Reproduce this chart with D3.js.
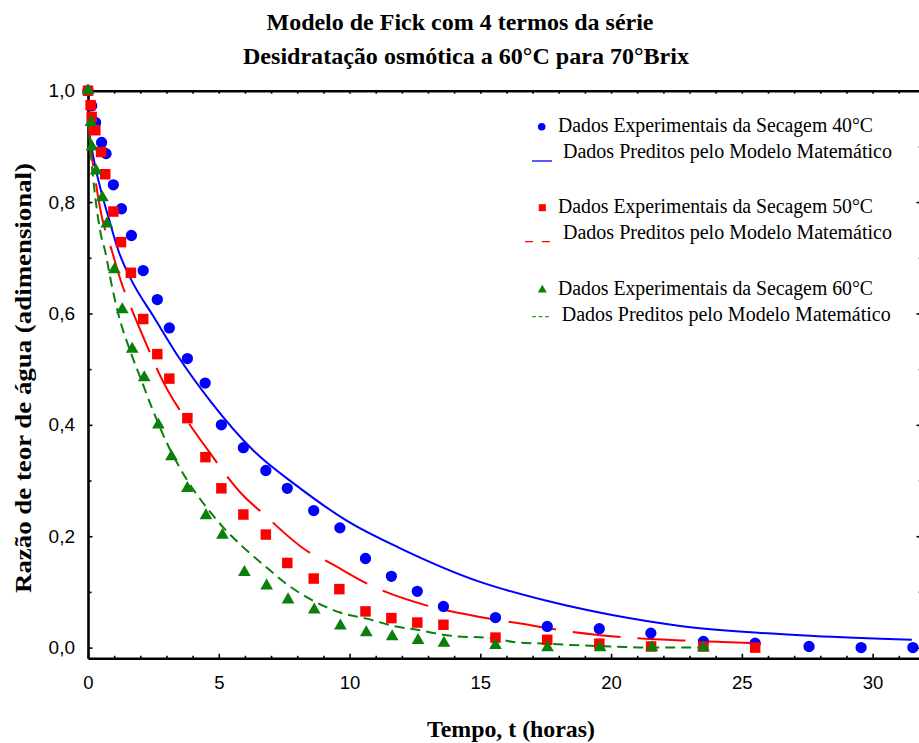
<!DOCTYPE html>
<html>
<head>
<meta charset="utf-8">
<script src="https://cdn.jsdelivr.net/npm/d3@7"></script>
<style>
  body { margin: 0; background: #fff; }
  svg { display: block; }
</style>
</head>
<body>
<svg id="chart" width="919" height="743"></svg>
<script>
// Experimental moisture ratio (40 °C)
const tempo40 = [0, 0.14, 0.29, 0.52, 0.69, 0.97, 1.28, 1.66, 2.11, 2.65, 3.11, 3.80, 4.48, 5.10, 5.94, 6.80, 7.62, 8.63, 9.63, 10.61, 11.60, 12.59, 13.59, 15.58, 17.56, 19.55, 21.52, 23.53, 25.51, 27.57, 29.56, 31.54];
const razao40 = [1.0, 0.973, 0.943, 0.907, 0.887, 0.831, 0.788, 0.740, 0.677, 0.625, 0.574, 0.519, 0.475, 0.400, 0.359, 0.318, 0.286, 0.246, 0.215, 0.160, 0.128, 0.101, 0.074, 0.054, 0.038, 0.034, 0.026, 0.011, 0.008, 0.002, 0.000, 0.000];

// Experimental moisture ratio (50 °C)
const tempo50 = [0, 0.10, 0.14, 0.28, 0.50, 0.66, 0.97, 1.26, 1.64, 2.11, 2.65, 3.11, 3.80, 4.49, 5.10, 5.94, 6.80, 7.62, 8.63, 9.61, 10.61, 11.60, 12.59, 13.59, 15.58, 17.56, 19.55, 21.53, 23.53, 25.51];
const razao50 = [1.0, 0.974, 0.953, 0.929, 0.890, 0.850, 0.783, 0.728, 0.673, 0.590, 0.527, 0.483, 0.412, 0.342, 0.286, 0.239, 0.203, 0.152, 0.124, 0.105, 0.065, 0.053, 0.045, 0.041, 0.018, 0.014, 0.007, 0.002, 0.002, 0.000];

// Experimental moisture ratio (60 °C)
const tempo60 = [0, 0.11, 0.15, 0.31, 0.55, 0.72, 1.01, 1.31, 1.69, 2.15, 2.69, 3.19, 3.80, 4.51, 5.14, 5.98, 6.83, 7.65, 8.65, 9.65, 10.64, 11.63, 12.62, 13.61, 15.58, 17.57, 19.58, 21.56, 23.53];
const razao60 = [1.0, 0.943, 0.899, 0.856, 0.808, 0.761, 0.679, 0.607, 0.536, 0.485, 0.400, 0.343, 0.286, 0.237, 0.202, 0.135, 0.111, 0.086, 0.068, 0.039, 0.027, 0.020, 0.013, 0.008, 0.004, 0.000, 0.000, 0.000, 0.000];

// Fick model predictions (4 series terms)
const pred40T = [0, 0.1, 0.25, 0.5, 0.8, 1.16, 1.67, 2.5, 3.5, 4.67, 6.32, 8.0, 9.89, 12.0, 14.99, 17.54, 20.09, 22.64, 25.19, 27.74, 31.5];
const pred40V = [0.95, 0.91, 0.87, 0.82, 0.77, 0.713, 0.659, 0.595, 0.519, 0.443, 0.354, 0.290, 0.228, 0.177, 0.118, 0.084, 0.058, 0.039, 0.028, 0.021, 0.014];

const pred50T = [0, 0.1, 0.25, 0.5, 0.91, 1.33, 1.58, 2.44, 2.73, 3.94, 4.41, 6.0, 6.64, 8.46, 9.09, 10.89, 13.0, 14.99, 16.42, 18.24, 20.66, 23.11, 25.5];
const pred50V = [0.95, 0.90, 0.85, 0.78, 0.713, 0.648, 0.618, 0.522, 0.491, 0.397, 0.366, 0.270, 0.243, 0.171, 0.156, 0.110, 0.075, 0.055, 0.044, 0.030, 0.018, 0.012, 0.008];

const pred60T = [0, 0.1, 0.25, 0.5, 0.65, 0.91, 1.16, 1.61, 2.05, 2.44, 3.03, 3.8, 4.51, 5.17, 5.94, 6.83, 7.60, 8.62, 9.64, 10.66, 11.67, 12.70, 13.72, 15.63, 16.26, 17.54, 18.81, 20.09, 21.36, 22.64, 23.66];
const pred60V = [0.95, 0.89, 0.82, 0.74, 0.713, 0.650, 0.599, 0.533, 0.479, 0.431, 0.366, 0.300, 0.253, 0.216, 0.180, 0.144, 0.114, 0.084, 0.063, 0.052, 0.039, 0.031, 0.022, 0.016, 0.010, 0.007, 0.004, 0.002, 0.000, 0.000, 0.000];

// Axis ticks and text
const xTicks = [0, 5, 10, 15, 20, 25, 30];
const yTicks = [0, 0.2, 0.4, 0.6, 0.8, 1.0];
const titulo = ["Modelo de Fick com 4 termos da série", "Desidratação osmótica a 60°C para 70°Brix"];
const rotuloX = "Tempo, t (horas)";
const rotuloY = "Razão de teor de água (adimensional)";
const legendaExp = ["Dados Experimentais da Secagem 40°C", "Dados Experimentais da Secagem 50°C", "Dados Experimentais da Secagem 60°C"];
const legendaPred = "Dados Preditos pelo Modelo Matemático";

const svg = d3.select("#chart");
const mLeft = 88, mRight = 921, mTop = 90.7, mBottom = 658.3;

const x = d3.scaleLinear().domain([0, 31.85]).range([mLeft, mRight]);
const y = d3.scaleLinear().domain([-0.0192, 1.0]).range([mBottom, mTop]);

const blue = "#0000ff", red = "#ff0000", green = "#0a7f0a";
const serif = "'Liberation Serif', 'Times New Roman', serif";
const sans = "'Liberation Sans', Arial, sans-serif";

// Frame with inward ticks
const minorX = d3.range(0, 32).filter(v => v % 5 !== 0);
const minorY = d3.range(1, 10, 2).map(v => v / 10);

function styleAxis(g) {
  g.selectAll(".domain").attr("stroke", "#000").attr("stroke-width", 2.6);
  g.selectAll(".tick line").attr("stroke", "#000").attr("stroke-width", 1.6);
}

svg.append("g").attr("transform", `translate(0,${mBottom})`)
  .call(d3.axisBottom(x).tickValues(xTicks).tickSizeInner(-4.5).tickSizeOuter(0).tickPadding(18).tickFormat(d3.format("d")))
  .call(styleAxis)
  .call(g => g.selectAll("text").attr("font-family", sans).attr("font-size", 18.5).attr("fill", "#000"));
svg.append("g").attr("transform", `translate(0,${mBottom})`)
  .call(d3.axisBottom(x).tickValues(minorX).tickSize(-2.5).tickFormat(""))
  .call(styleAxis).call(g => g.select(".domain").remove());

svg.append("g").attr("transform", `translate(${mLeft},0)`)
  .call(d3.axisLeft(y).tickValues(yTicks).tickSizeInner(-4.5).tickSizeOuter(0).tickPadding(13)
    .tickFormat(d => d3.format(".1f")(d).replace(".", ",")))
  .call(styleAxis)
  .call(g => g.selectAll("text").attr("font-family", sans).attr("font-size", 19).attr("fill", "#000"));
svg.append("g").attr("transform", `translate(${mLeft},0)`)
  .call(d3.axisLeft(y).tickValues(minorY).tickSize(-3.5).tickFormat(""))
  .call(styleAxis).call(g => g.select(".domain").remove());

svg.append("g").attr("transform", `translate(0,${mTop})`)
  .call(d3.axisTop(x).tickValues(d3.range(0, 32)).tickSize(-3).tickSizeOuter(0).tickFormat(""))
  .call(styleAxis);

svg.append("g").attr("transform", `translate(${mRight},0)`)
  .call(d3.axisRight(y).tickValues(yTicks).tickSize(-4.5).tickSizeOuter(0).tickFormat(""))
  .call(styleAxis);
svg.append("g").attr("transform", `translate(${mRight},0)`)
  .call(d3.axisRight(y).tickValues(minorY).tickSize(-3).tickFormat(""))
  .call(styleAxis)
  .call(g => g.select(".domain").remove())
  .call(g => g.selectAll(".tick line").attr("stroke", "#bbb"));

// Model curves
const plot = svg.append("g");
const line = d3.line().x(d => x(d[0])).y(d => y(d[1])).curve(d3.curveMonotoneX);

plot.append("path").datum(d3.zip(pred40T, pred40V))
  .attr("d", line).attr("fill", "none").attr("stroke", blue).attr("stroke-width", 2);
plot.append("path").datum(d3.zip(pred50T, pred50V))
  .attr("d", line).attr("fill", "none").attr("stroke", red).attr("stroke-width", 2)
  .attr("stroke-dasharray", "48,17");
plot.append("path").datum(d3.zip(pred60T, pred60V))
  .attr("d", line).attr("fill", "none").attr("stroke", green).attr("stroke-width", 2)
  .attr("stroke-dasharray", "10,6");

// Experimental points
const sym = (type, size) => d3.symbol().type(type).size(size)();

plot.append("g").selectAll("path").data(d3.zip(tempo40, razao40)).join("path")
  .attr("d", sym(d3.symbolCircle, 100))
  .attr("transform", d => `translate(${x(d[0])},${y(d[1])})`).attr("fill", blue);
plot.append("g").selectAll("path").data(d3.zip(tempo50, razao50)).join("path")
  .attr("d", sym(d3.symbolSquare, 110))
  .attr("transform", d => `translate(${x(d[0])},${y(d[1])})`).attr("fill", red);
plot.append("g").selectAll("path").data(d3.zip(tempo60, razao60)).join("path")
  .attr("d", sym(d3.symbolTriangle, 70))
  .attr("transform", d => `translate(${x(d[0])},${y(d[1])})`).attr("fill", green);

// Legend
const leg = svg.append("g").attr("font-family", serif).attr("font-size", 20).attr("fill", "#000");
function legText(txt, tx, ty, w) {
  leg.append("text").attr("x", tx).attr("y", ty).text(txt)
    .attr("textLength", w).attr("lengthAdjust", "spacingAndGlyphs");
}
leg.append("path").attr("d", sym(d3.symbolCircle, 45)).attr("transform", "translate(541.7,126.7)").attr("fill", blue);
legText(legendaExp[0], 558, 132, 315);
leg.append("line").attr("x1", 532).attr("x2", 552).attr("y1", 161).attr("y2", 161).attr("stroke", blue).attr("stroke-width", 1.3);
legText(legendaPred, 563, 158, 329);

leg.append("path").attr("d", sym(d3.symbolSquare, 50)).attr("transform", "translate(542.3,207.7)").attr("fill", red);
legText(legendaExp[1], 558, 213, 315);
leg.append("line").attr("x1", 525).attr("x2", 552).attr("y1", 241.7).attr("y2", 241.7).attr("stroke", red).attr("stroke-width", 1.3)
  .attr("stroke-dasharray", "8,9");
legText(legendaPred, 563, 239, 329);

leg.append("path").attr("d", sym(d3.symbolTriangle, 35)).attr("transform", "translate(542.3,290)").attr("fill", green);
legText(legendaExp[2], 558, 295, 315);
leg.append("line").attr("x1", 532).attr("x2", 549).attr("y1", 316.7).attr("y2", 316.7).attr("stroke", "#2e9e2e").attr("stroke-width", 1.3)
  .attr("stroke-dasharray", "4,2.5");
legText(legendaPred, 561.7, 321, 329);

// Titles
const tt = svg.append("g").attr("font-family", serif).attr("font-weight", "bold").attr("fill", "#000").attr("text-anchor", "middle");
tt.append("text").attr("x", 460).attr("y", 30).attr("font-size", 24).text(titulo[0])
  .attr("textLength", 387).attr("lengthAdjust", "spacingAndGlyphs");
tt.append("text").attr("x", 466).attr("y", 64).attr("font-size", 24).text(titulo[1])
  .attr("textLength", 446).attr("lengthAdjust", "spacingAndGlyphs");
tt.append("text").attr("x", 511).attr("y", 737).attr("font-size", 24).text(rotuloX)
  .attr("textLength", 168).attr("lengthAdjust", "spacingAndGlyphs");
tt.append("text").attr("transform", "translate(31,378) rotate(-90)").attr("font-size", 23).text(rotuloY)
  .attr("textLength", 430).attr("lengthAdjust", "spacingAndGlyphs");
</script>
</body>
</html>
